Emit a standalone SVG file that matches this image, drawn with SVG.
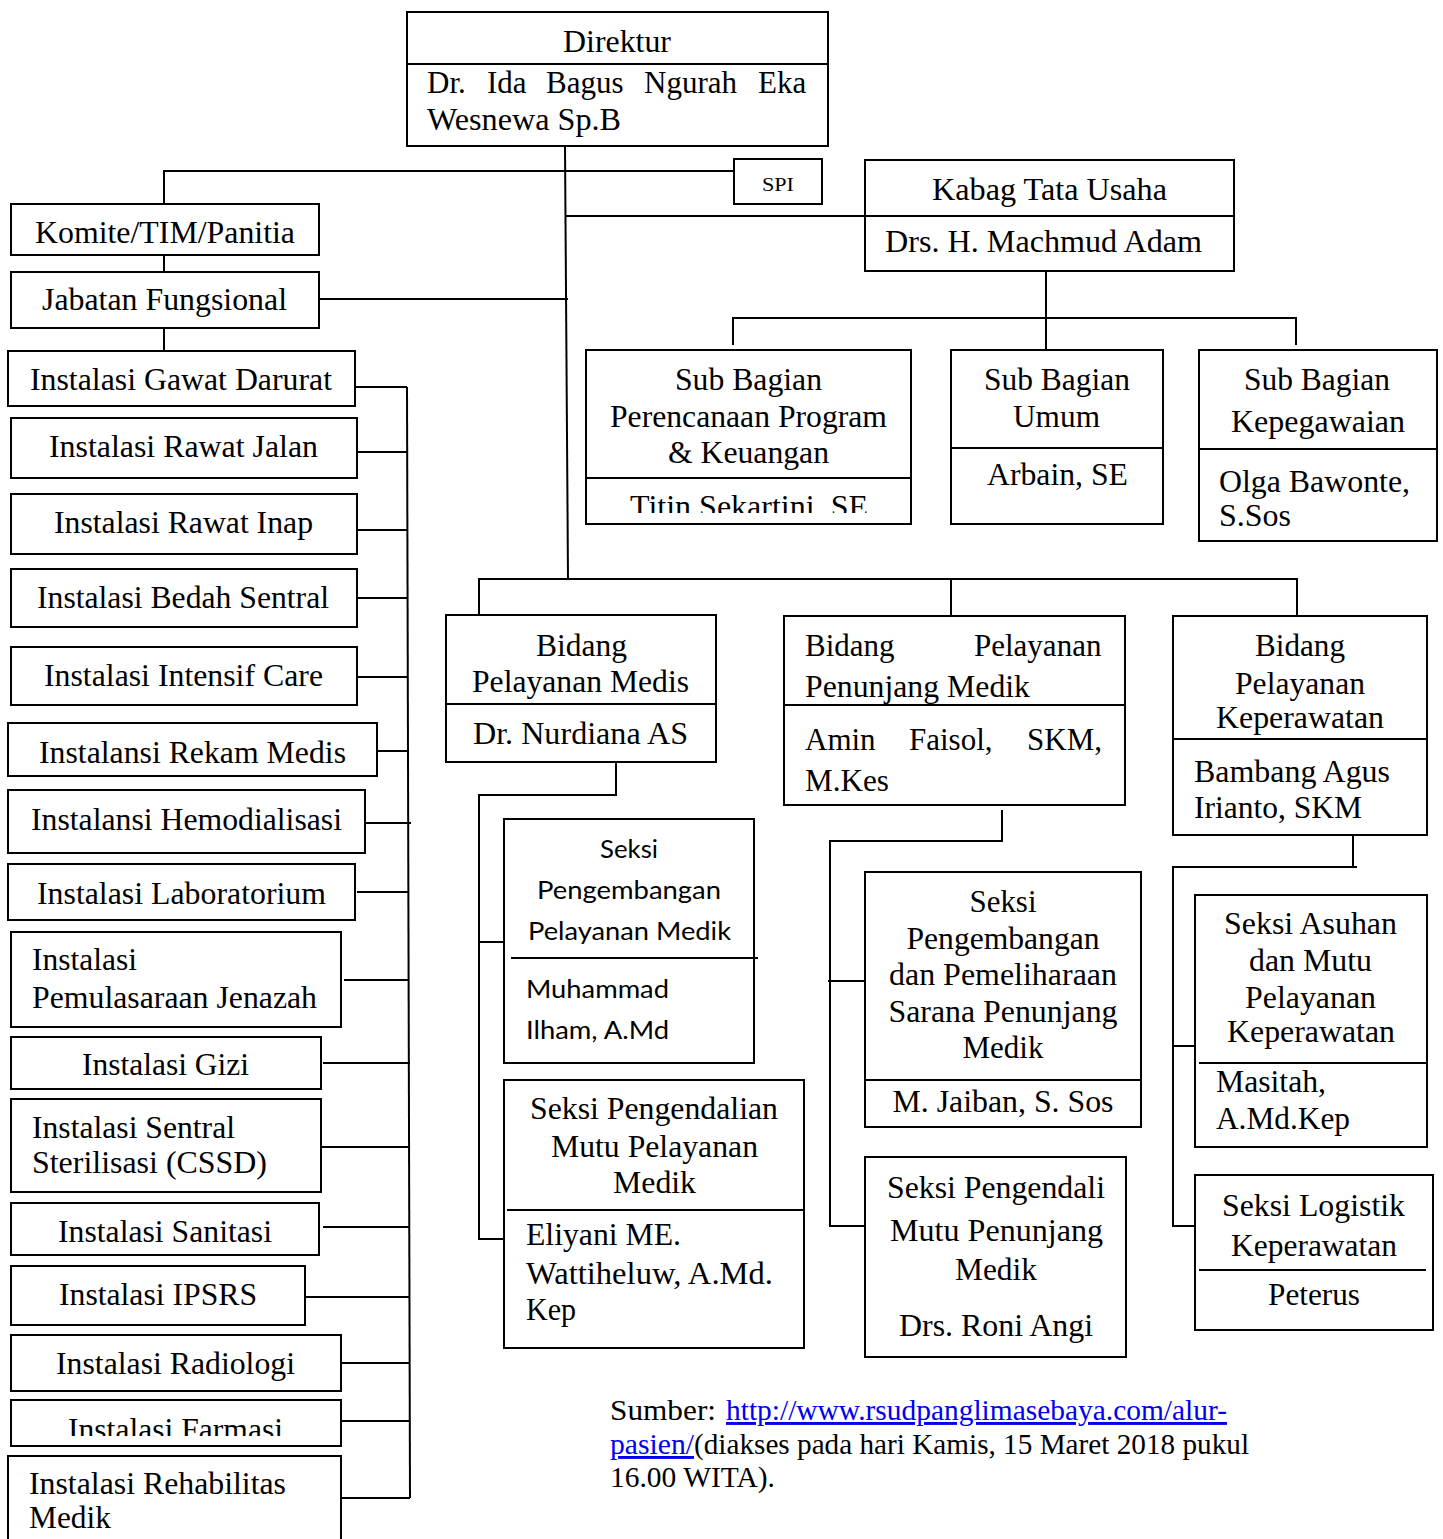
<svg xmlns="http://www.w3.org/2000/svg" width="1443" height="1539" viewBox="0 0 1443 1539">
<style>
.box{fill:#fff;stroke:#000;stroke-width:2}
.ln{stroke:#000;stroke-width:2;fill:none}
.t{font-family:"Liberation Serif","Times New Roman",serif;font-size:31px;fill:#000}
.s{font-family:Lato,"Open Sans",sans-serif;font-size:25px;fill:#000}
.c{text-anchor:middle}
.lk{fill:#0000ee;text-decoration:underline}
</style>
<defs>
<clipPath id="clipTitin"><rect x="586" y="478" width="325" height="35"/></clipPath>
<clipPath id="clipFarm"><rect x="11" y="1400" width="330" height="36"/></clipPath>
</defs>
<rect width="1443" height="1539" fill="#fff"/>

<g id="connectors">
<path class="ln" d="M565,146 L568,579"/>
<path class="ln" d="M164,204 V171 H734"/>
<path class="ln" d="M565,216 H865"/>
<path class="ln" d="M164,255 V272"/>
<path class="ln" d="M164,328 V351"/>
<path class="ln" d="M319,299 H568"/>
<path class="ln" d="M1046,271 V350"/>
<path class="ln" d="M733,345 V318 H1296 V345"/>
<path class="ln" d="M479,614 V579 H1297 V615"/>
<path class="ln" d="M951,579 V615"/>
<path class="ln" d="M616,762 V795 H479 V1239 H504"/>
<path class="ln" d="M479,942 H504"/>
<path class="ln" d="M1002,810 V841 H830 V1226 H865"/>
<path class="ln" d="M828,981 H865"/>
<path class="ln" d="M1353,835 V867"/>
<path class="ln" d="M1357,867 H1173 V1226 H1199"/>
<path class="ln" d="M1173,1046 H1195"/>
<path class="ln" d="M407,387 L410,1498"/>
<path class="ln" d="M355,387 H407 M357,452 H407 M357,530 H407 M357,598 H408 M357,677 H408 M377,751 H408 M365,823 H411 M357,892 H409 M344,980 H409 M323,1063 H410 M321,1147 H409 M323,1227 H410 M305,1297 H410 M341,1363 H410 M342,1421 H410 M341,1498 H410"/>
</g>

<g id="direktur">
<rect class="box" x="407" y="12" width="421" height="134"/>
<path class="ln" d="M407,64 H828"/>
<text class="t" x="563" y="52" textLength="108" lengthAdjust="spacingAndGlyphs">Direktur</text>
<text class="t" y="93"><tspan x="427">Dr.</tspan> <tspan x="487">Ida</tspan> <tspan x="546">Bagus</tspan> <tspan x="644">Ngurah</tspan> <tspan x="758">Eka</tspan></text>
<text class="t" x="427" y="130" textLength="194" lengthAdjust="spacingAndGlyphs">Wesnewa Sp.B</text>
</g>

<g id="spi">
<rect class="box" x="734" y="159" width="88" height="45"/>
<text class="t" x="762" y="191" style="font-size:19px" textLength="32" lengthAdjust="spacingAndGlyphs">SPI</text>
</g>

<g id="kabag">
<rect class="box" x="865" y="160" width="369" height="111"/>
<path class="ln" d="M865,216 H1234"/>
<text class="t" x="932" y="200" textLength="235" lengthAdjust="spacingAndGlyphs">Kabag Tata Usaha</text>
<text class="t" x="885" y="252" textLength="317" lengthAdjust="spacingAndGlyphs">Drs. H. Machmud Adam</text>
</g>

<g id="komite">
<rect class="box" x="11" y="204" width="308" height="51"/>
<text class="t" x="35" y="243" textLength="260" lengthAdjust="spacingAndGlyphs">Komite/TIM/Panitia</text>
</g>

<g id="jabatan">
<rect class="box" x="11" y="272" width="308" height="56"/>
<text class="t" x="42" y="310" textLength="245" lengthAdjust="spacingAndGlyphs">Jabatan Fungsional</text>
</g>

<g id="sub-perencanaan">
<rect class="box" x="586" y="350" width="325" height="174"/>
<path class="ln" d="M586,478 H911"/>
<text class="t" x="675" y="390" textLength="147" lengthAdjust="spacingAndGlyphs">Sub Bagian</text>
<text class="t" x="610" y="427" textLength="277" lengthAdjust="spacingAndGlyphs">Perencanaan Program</text>
<text class="t" x="668" y="463" textLength="161" lengthAdjust="spacingAndGlyphs">&amp; Keuangan</text>
<text class="t" x="630" y="517" textLength="238" lengthAdjust="spacingAndGlyphs" clip-path="url(#clipTitin)">Titin Sekartini, SE</text>
</g>

<g id="sub-umum">
<rect class="box" x="951" y="350" width="212" height="174"/>
<path class="ln" d="M951,448 H1163"/>
<text class="t" x="984" y="390" textLength="146" lengthAdjust="spacingAndGlyphs">Sub Bagian</text>
<text class="t" x="1013" y="427" textLength="87" lengthAdjust="spacingAndGlyphs">Umum</text>
<text class="t" x="987" y="485" textLength="141" lengthAdjust="spacingAndGlyphs">Arbain, SE</text>
</g>

<g id="sub-kepegawaian">
<rect class="box" x="1199" y="350" width="238" height="191"/>
<path class="ln" d="M1199,449 H1437"/>
<text class="t" x="1244" y="390" textLength="146" lengthAdjust="spacingAndGlyphs">Sub Bagian</text>
<text class="t" x="1231" y="432" textLength="174" lengthAdjust="spacingAndGlyphs">Kepegawaian</text>
<text class="t" x="1219" y="492" textLength="191" lengthAdjust="spacingAndGlyphs">Olga Bawonte,</text>
<text class="t" x="1219" y="526" textLength="72" lengthAdjust="spacingAndGlyphs">S.Sos</text>
</g>

<g id="inst-gawat"><rect class="box" x="8" y="351" width="347" height="55"/><text class="t" x="30" y="390" textLength="302" lengthAdjust="spacingAndGlyphs">Instalasi Gawat Darurat</text></g>
<g id="inst-jalan"><rect class="box" x="11" y="418" width="346" height="60"/><text class="t" x="49" y="457" textLength="269" lengthAdjust="spacingAndGlyphs">Instalasi Rawat Jalan</text></g>
<g id="inst-inap"><rect class="box" x="11" y="494" width="346" height="60"/><text class="t" x="54" y="533" textLength="259" lengthAdjust="spacingAndGlyphs">Instalasi Rawat Inap</text></g>
<g id="inst-bedah"><rect class="box" x="11" y="569" width="346" height="58"/><text class="t" x="37" y="608" textLength="292" lengthAdjust="spacingAndGlyphs">Instalasi Bedah Sentral</text></g>
<g id="inst-intensif"><rect class="box" x="11" y="647" width="346" height="58"/><text class="t" x="44" y="686" textLength="279" lengthAdjust="spacingAndGlyphs">Instalasi Intensif Care</text></g>
<g id="inst-rekam"><rect class="box" x="8" y="723" width="369" height="53"/><text class="t" x="39" y="763" textLength="307" lengthAdjust="spacingAndGlyphs">Instalansi Rekam Medis</text></g>
<g id="inst-hemo"><rect class="box" x="8" y="790" width="357" height="63"/><text class="t" x="31" y="830" textLength="311" lengthAdjust="spacingAndGlyphs">Instalansi Hemodialisasi</text></g>
<g id="inst-lab"><rect class="box" x="8" y="864" width="347" height="56"/><text class="t" x="37" y="904" textLength="289" lengthAdjust="spacingAndGlyphs">Instalasi Laboratorium</text></g>
<g id="inst-jenazah"><rect class="box" x="11" y="932" width="330" height="95"/><text class="t" x="32" y="970" textLength="105" lengthAdjust="spacingAndGlyphs">Instalasi</text><text class="t" x="32" y="1008" textLength="285" lengthAdjust="spacingAndGlyphs">Pemulasaraan Jenazah</text></g>
<g id="inst-gizi"><rect class="box" x="11" y="1037" width="310" height="52"/><text class="t" x="82" y="1075" textLength="167" lengthAdjust="spacingAndGlyphs">Instalasi Gizi</text></g>
<g id="inst-cssd"><rect class="box" x="11" y="1099" width="310" height="93"/><text class="t" x="32" y="1138" textLength="203" lengthAdjust="spacingAndGlyphs">Instalasi Sentral</text><text class="t" x="32" y="1173" textLength="235" lengthAdjust="spacingAndGlyphs">Sterilisasi (CSSD)</text></g>
<g id="inst-sanitasi"><rect class="box" x="11" y="1203" width="308" height="52"/><text class="t" x="58" y="1242" textLength="214" lengthAdjust="spacingAndGlyphs">Instalasi Sanitasi</text></g>
<g id="inst-ipsrs"><rect class="box" x="11" y="1266" width="294" height="59"/><text class="t" x="59" y="1305" textLength="198" lengthAdjust="spacingAndGlyphs">Instalasi IPSRS</text></g>
<g id="inst-radiologi"><rect class="box" x="11" y="1335" width="330" height="56"/><text class="t" x="56" y="1374" textLength="239" lengthAdjust="spacingAndGlyphs">Instalasi Radiologi</text></g>
<g id="inst-farmasi"><rect class="box" x="11" y="1400" width="330" height="46"/><text class="t" x="68" y="1440" textLength="215" lengthAdjust="spacingAndGlyphs" clip-path="url(#clipFarm)">Instalasi Farmasi</text></g>
<g id="inst-rehab"><rect class="box" x="8" y="1456" width="333" height="100"/><text class="t" x="29" y="1494" textLength="257" lengthAdjust="spacingAndGlyphs">Instalasi Rehabilitas</text><text class="t" x="29" y="1528" textLength="82" lengthAdjust="spacingAndGlyphs">Medik</text></g>

<g id="bidang-medis">
<rect class="box" x="446" y="615" width="270" height="147"/>
<path class="ln" d="M446,704 H716"/>
<text class="t" x="536" y="656" textLength="91" lengthAdjust="spacingAndGlyphs">Bidang</text>
<text class="t" x="472" y="692" textLength="217" lengthAdjust="spacingAndGlyphs">Pelayanan Medis</text>
<text class="t" x="473" y="744" textLength="215" lengthAdjust="spacingAndGlyphs">Dr. Nurdiana AS</text>
</g>

<g id="seksi-pengembangan-medik">
<rect class="box" x="504" y="819" width="250" height="244"/>
<path class="ln" d="M511,958 H758"/>
<text class="s" x="600" y="858" textLength="58" lengthAdjust="spacingAndGlyphs">Seksi</text>
<text class="s" x="537" y="899" textLength="184" lengthAdjust="spacingAndGlyphs">Pengembangan</text>
<text class="s" x="528" y="940" textLength="203" lengthAdjust="spacingAndGlyphs">Pelayanan Medik</text>
<text class="s" x="526" y="998" textLength="143" lengthAdjust="spacingAndGlyphs">Muhammad</text>
<text class="s" x="526" y="1039" textLength="143" lengthAdjust="spacingAndGlyphs">Ilham, A.Md</text>
</g>

<g id="seksi-pengendalian-medik">
<rect class="box" x="504" y="1080" width="300" height="268"/>
<path class="ln" d="M507,1210 H804"/>
<text class="t" x="530" y="1119" textLength="248" lengthAdjust="spacingAndGlyphs">Seksi Pengendalian</text>
<text class="t" x="551" y="1157" textLength="207" lengthAdjust="spacingAndGlyphs">Mutu Pelayanan</text>
<text class="t" x="613" y="1193" textLength="83" lengthAdjust="spacingAndGlyphs">Medik</text>
<text class="t" x="526" y="1245" textLength="155" lengthAdjust="spacingAndGlyphs">Eliyani ME.</text>
<text class="t" x="526" y="1284" textLength="247" lengthAdjust="spacingAndGlyphs">Wattiheluw, A.Md.</text>
<text class="t" x="526" y="1320" textLength="50" lengthAdjust="spacingAndGlyphs">Kep</text>
</g>

<g id="bidang-penunjang">
<rect class="box" x="784" y="616" width="341" height="189"/>
<path class="ln" d="M784,705 H1125"/>
<text class="t" y="656"><tspan x="805">Bidang</tspan> <tspan x="974">Pelayanan</tspan></text>
<text class="t" x="805" y="697" textLength="225" lengthAdjust="spacingAndGlyphs">Penunjang Medik</text>
<text class="t" y="750"><tspan x="805">Amin</tspan> <tspan x="909">Faisol,</tspan> <tspan x="1027">SKM,</tspan></text>
<text class="t" x="805" y="791" textLength="84" lengthAdjust="spacingAndGlyphs">M.Kes</text>
</g>

<g id="seksi-sarana-penunjang">
<rect class="box" x="865" y="872" width="276" height="255"/>
<path class="ln" d="M865,1080 H1141"/>
<text class="t c" x="1003" y="912" textLength="67" lengthAdjust="spacingAndGlyphs">Seksi</text>
<text class="t c" x="1003" y="949" textLength="193" lengthAdjust="spacingAndGlyphs">Pengembangan</text>
<text class="t c" x="1003" y="985" textLength="228" lengthAdjust="spacingAndGlyphs">dan Pemeliharaan</text>
<text class="t c" x="1003" y="1022" textLength="229" lengthAdjust="spacingAndGlyphs">Sarana Penunjang</text>
<text class="t c" x="1003" y="1058" textLength="81" lengthAdjust="spacingAndGlyphs">Medik</text>
<text class="t c" x="1003" y="1112" textLength="221" lengthAdjust="spacingAndGlyphs">M. Jaiban, S. Sos</text>
</g>

<g id="seksi-mutu-penunjang">
<rect class="box" x="865" y="1157" width="261" height="200"/>
<text class="t" x="887" y="1198" textLength="218" lengthAdjust="spacingAndGlyphs">Seksi Pengendali</text>
<text class="t" x="890" y="1241" textLength="213" lengthAdjust="spacingAndGlyphs">Mutu Penunjang</text>
<text class="t" x="955" y="1280" textLength="82" lengthAdjust="spacingAndGlyphs">Medik</text>
<text class="t" x="899" y="1336" textLength="194" lengthAdjust="spacingAndGlyphs">Drs. Roni Angi</text>
</g>

<g id="bidang-keperawatan">
<rect class="box" x="1173" y="616" width="254" height="219"/>
<path class="ln" d="M1173,739 H1427"/>
<text class="t" x="1255" y="656" textLength="90" lengthAdjust="spacingAndGlyphs">Bidang</text>
<text class="t" x="1235" y="694" textLength="130" lengthAdjust="spacingAndGlyphs">Pelayanan</text>
<text class="t" x="1216" y="728" textLength="168" lengthAdjust="spacingAndGlyphs">Keperawatan</text>
<text class="t" x="1194" y="782" textLength="196" lengthAdjust="spacingAndGlyphs">Bambang Agus</text>
<text class="t" x="1194" y="818" textLength="168" lengthAdjust="spacingAndGlyphs">Irianto, SKM</text>
</g>

<g id="seksi-asuhan">
<rect class="box" x="1195" y="895" width="232" height="252"/>
<path class="ln" d="M1199,1063 H1427"/>
<text class="t" x="1224" y="934" textLength="173" lengthAdjust="spacingAndGlyphs">Seksi Asuhan</text>
<text class="t" x="1249" y="971" textLength="123" lengthAdjust="spacingAndGlyphs">dan Mutu</text>
<text class="t" x="1245" y="1008" textLength="131" lengthAdjust="spacingAndGlyphs">Pelayanan</text>
<text class="t" x="1227" y="1042" textLength="168" lengthAdjust="spacingAndGlyphs">Keperawatan</text>
<text class="t" x="1216" y="1092" textLength="110" lengthAdjust="spacingAndGlyphs">Masitah,</text>
<text class="t" x="1216" y="1129" textLength="134" lengthAdjust="spacingAndGlyphs">A.Md.Kep</text>
</g>

<g id="seksi-logistik">
<rect class="box" x="1195" y="1175" width="238" height="155"/>
<path class="ln" d="M1199,1270 H1426"/>
<text class="t" x="1222" y="1216" textLength="183" lengthAdjust="spacingAndGlyphs">Seksi Logistik</text>
<text class="t" x="1231" y="1256" textLength="166" lengthAdjust="spacingAndGlyphs">Keperawatan</text>
<text class="t" x="1268" y="1305" textLength="92" lengthAdjust="spacingAndGlyphs">Peterus</text>
</g>

<g id="sumber">
<text class="t" y="1420" style="font-size:29px"><tspan x="610" textLength="106" lengthAdjust="spacingAndGlyphs">Sumber:</tspan><tspan x="726" class="lk" textLength="501" lengthAdjust="spacingAndGlyphs">http://www.rsudpanglimasebaya.com/alur-</tspan></text>
<text class="t" y="1454" style="font-size:29px"><tspan x="610" class="lk" textLength="84" lengthAdjust="spacingAndGlyphs">pasien/</tspan><tspan x="694" textLength="555" lengthAdjust="spacingAndGlyphs">(diakses pada hari Kamis, 15 Maret 2018 pukul</tspan></text>
<text class="t" x="610" y="1487" style="font-size:29px" textLength="165" lengthAdjust="spacingAndGlyphs">16.00 WITA).</text>
</g>
</svg>
